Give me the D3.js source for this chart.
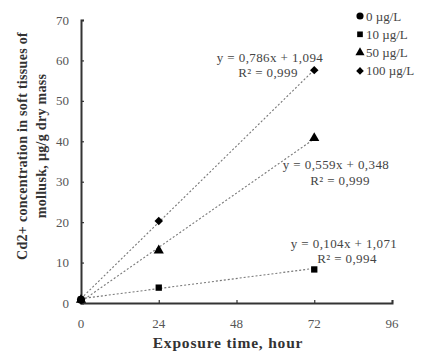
<!DOCTYPE html>
<html>
<head>
<meta charset="utf-8">
<script src="https://cdn.jsdelivr.net/npm/d3@7"></script>
<style>
  body { margin: 0; background: #fff; }
  text { font-family: "Liberation Serif", "Times New Roman", serif; }
</style>
</head>
<body>
<div id="chart"></div>
<script>
// data
const hours = [0, 24, 72];
const seriesNames = ['0 µg/L', '10 µg/L', '50 µg/L', '100 µg/L'];
const control = [0.8];
const dose10 = [0.8, 3.8, 8.3];
const dose50 = [0.8, 13.0, 40.8];
const dose100 = [0.8, 20.3, 57.6];
const slopes = [0.104, 0.559, 0.786];
const intercepts = [1.071, 0.348, 1.094];
const equations = ['y = 0,104x + 1,071', 'y = 0,559x + 0,348', 'y = 0,786x + 1,094'];
const rSquared = ['R² = 0,994', 'R² = 0,999', 'R² = 0,999'];
const xTicks = [0, 24, 48, 72, 96];
const yTicks = [0, 10, 20, 30, 40, 50, 60, 70];

const W = 421, H = 351;
const svg = d3.select('#chart').append('svg').attr('width', W).attr('height', H);

const x = d3.scaleLinear().domain([0, 96]).range([81, 392]);
const y = d3.scaleLinear().domain([0, 70]).range([303, 20]);

// trend lines (dotted)
slopes.forEach((s, i) => {
  svg.append('line')
    .attr('x1', x(0)).attr('y1', y(intercepts[i]))
    .attr('x2', x(72)).attr('y2', y(s * 72 + intercepts[i]))
    .attr('stroke', '#777').attr('stroke-width', 1.1)
    .attr('stroke-dasharray', '2,2');
});

// axes
const yAxis = svg.append('g').attr('transform', `translate(${x(0)},0)`)
  .call(d3.axisRight(y).tickValues(yTicks).tickSize(3).tickFormat(''));
const xAxis = svg.append('g').attr('transform', `translate(0,${y(0)})`)
  .call(d3.axisTop(x).tickValues(xTicks).tickSize(3).tickFormat(''));
[yAxis, xAxis].forEach(g => {
  g.select('.domain').attr('stroke', '#333').attr('stroke-width', 2);
  g.selectAll('.tick line').attr('stroke', '#333').attr('stroke-width', 1.2);
});

svg.append('g').selectAll('text').data(yTicks).join('text')
  .attr('x', 69).attr('y', d => y(d) + 4.5)
  .attr('text-anchor', 'end').attr('font-size', 13).attr('fill', '#555')
  .text(d => d);
svg.append('g').selectAll('text').data(xTicks).join('text')
  .attr('x', d => x(d)).attr('y', 328)
  .attr('text-anchor', 'middle').attr('font-size', 13).attr('fill', '#555')
  .text(d => d);

// axis titles
svg.append('text').attr('x', 228).attr('y', 348)
  .attr('text-anchor', 'middle').attr('font-size', 15.5).attr('font-weight', 'bold')
  .attr('letter-spacing', 0.8).attr('fill', '#333').text('Exposure time, hour');
const yt = svg.append('text').attr('transform', 'translate(27,146) rotate(-90)')
  .attr('text-anchor', 'middle').attr('font-size', 14).attr('font-weight', 'bold')
  .attr('letter-spacing', 0.3).attr('fill', '#333');
yt.append('tspan').attr('x', 0).attr('dy', 0).text('Cd2+ concentration in soft tissues of');
yt.append('tspan').attr('x', 0).attr('dy', 19).text('mollusk, µg/g dry mass');

// markers
const sym = [d3.symbolCircle, d3.symbolSquare, d3.symbolTriangle, d3.symbolSquare];
const rot = [0, 0, 0, 45];
const sizes = [50, 40, 45, 36];
const allSeries = [control, dose10, dose50, dose100];
allSeries.forEach((vals, i) => {
  svg.append('g').selectAll('path').data(vals).join('path')
    .attr('transform', (d, j) => `translate(${x(hours[j])},${y(d)}) rotate(${rot[i]})`)
    .attr('d', d3.symbol(sym[i], sizes[i]))
    .attr('fill', '#000');
});

// equation labels
const eqPos = [[344, 243, 347, 258], [336, 164, 340, 180], [270, 57, 268, 72]];
equations.forEach((t, i) => {
  const p = eqPos[i];
  svg.append('text').attr('x', p[0]).attr('y', p[1] + 4.5)
    .attr('text-anchor', 'middle').attr('font-size', 13).attr('letter-spacing', 0.4)
    .attr('fill', '#444').text(t);
  svg.append('text').attr('x', p[2]).attr('y', p[3] + 4.5)
    .attr('text-anchor', 'middle').attr('font-size', 13).attr('letter-spacing', 0.4)
    .attr('fill', '#444').text(rSquared[i]);
});

// legend
const leg = svg.append('g');
seriesNames.forEach((name, i) => {
  const ly = 16 + i * 18.3;
  leg.append('path').attr('transform', `translate(360,${ly}) rotate(${rot[i]})`)
    .attr('d', d3.symbol(sym[i], sizes[i] * 0.8)).attr('fill', '#000');
  leg.append('text').attr('x', 366).attr('y', ly + 4.5)
    .attr('font-size', 13).attr('fill', '#444').text(name);
});
</script>
</body>
</html>
